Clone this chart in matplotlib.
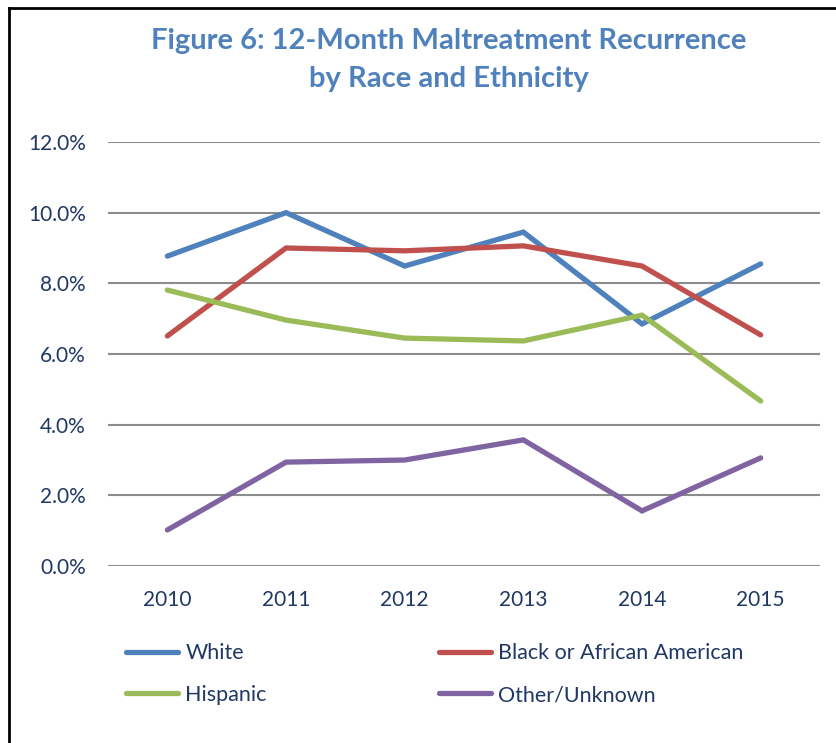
import numpy as np
import matplotlib.pyplot as plt
from matplotlib.lines import Line2D
from matplotlib.ticker import FuncFormatter

years = ["2010", "2011", "2012", "2013", "2014", "2015"]
white = [8.77, 10.0, 8.49, 9.45, 6.85, 8.55]
black = [6.51, 9.0, 8.92, 9.06, 8.49, 6.54]
hispanic = [7.81, 6.96, 6.45, 6.37, 7.10, 4.67]
other = [1.02, 2.94, 3.0, 3.57, 1.56, 3.06]

labels = ["White", "Black or African American", "Hispanic", "Other/Unknown"]
colors = ["#4F81BD", "#C0504D", "#9BBB59", "#8064A2"]

plt.rcParams['font.family'] = ['Lato', 'DejaVu Sans']
navy = "#1F3864"

fig = plt.figure(figsize=(8.36, 7.43), dpi=100)
ax = fig.add_axes([0.1292, 0.2382, 0.8517, 0.5707])

x = np.arange(len(years))
lines = []
for vals, c, lab in zip([white, black, hispanic, other], colors, labels):
    ln, = ax.plot(x, vals, color=c, lw=3.8, solid_capstyle='round',
                  solid_joinstyle='miter', label=lab)
    lines.append(ln)

ax.set_xlim(-0.5, 5.5)
ax.set_ylim(0, 12)
ax.set_yticks(np.arange(0, 12.1, 2))
ax.yaxis.set_major_formatter(FuncFormatter(lambda v, p: f"{v:.1f}%"))
ax.set_xticks(x)
ax.set_xticklabels(years)
ax.tick_params(length=0, labelsize=15, colors=navy)
ax.tick_params(axis='y', pad=16)
ax.tick_params(axis='x', pad=17)
ax.grid(axis='y', color='#8C8C8C', lw=1.5)
ax.set_axisbelow(True)
for s in ax.spines.values():
    s.set_visible(False)

fig.text(0.5365, 0.919, "Figure 6: 12-Month Maltreatment Recurrence\nby Race and Ethnicity",
         ha='center', va='center', fontsize=21, fontweight='bold', color="#4F81BD",
         linespacing=1.58)

order = [lines[0], lines[2], lines[1], lines[3]]
leg = fig.legend(order, [l.get_label() for l in order], ncol=2, loc='upper left',
                 bbox_to_anchor=(0.127, 0.16), frameon=False, fontsize=15.5,
                 handlelength=2.42, handletextpad=0.35, labelspacing=1.0,
                 columnspacing=8.0)
for t in leg.get_texts():
    t.set_color(navy)

# outer frame (left and top edges visible)
fig.add_artist(Line2D([0.0105, 0.0105], [0, 0.989], color='black', lw=2))
fig.add_artist(Line2D([0.0105, 1.0], [0.989, 0.989], color='black', lw=2))

fig.savefig("out.png", dpi=100)
